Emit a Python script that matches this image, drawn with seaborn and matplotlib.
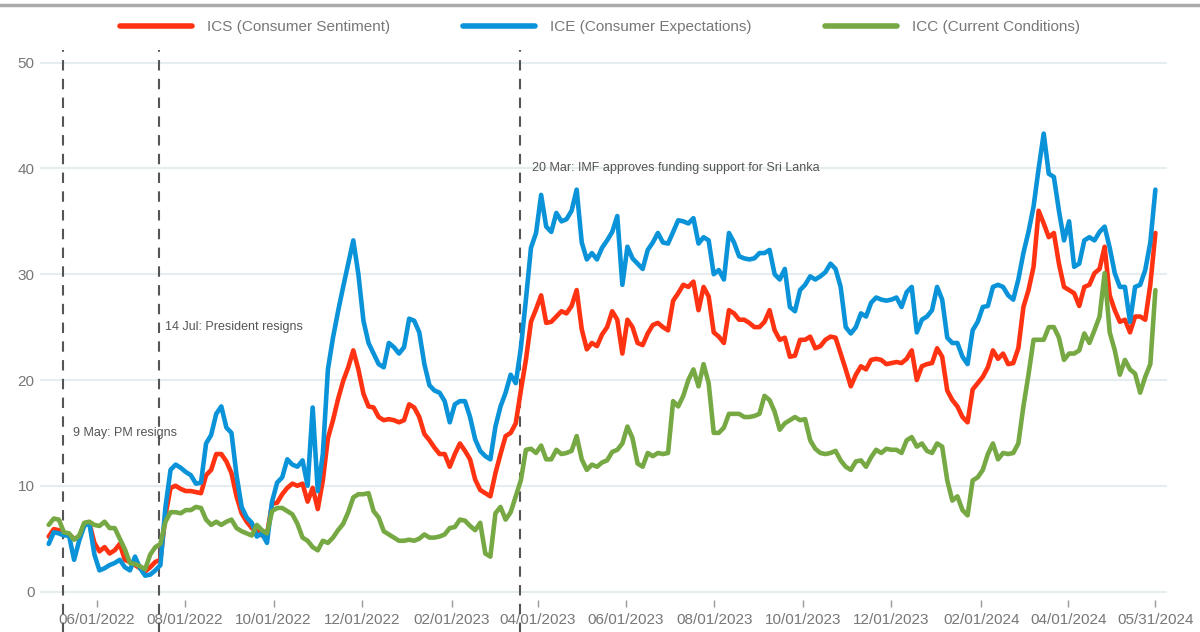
import pandas as pd
import numpy as np
import matplotlib
matplotlib.use("Agg")
import matplotlib.pyplot as plt
import matplotlib.dates as mdates
from matplotlib.lines import Line2D
import seaborn as sns

# readings every 3.5 days, 2022-04-29 .. 2024-05-31
dates = pd.date_range("2022-04-29", "2024-05-31", freq="84h")

# values on the weekly grid (Fridays) and half-way between them
ics_wk = [5.2, 5.8, 5.4, 5.0, 6.5, 3.8, 3.6, 4.5, 2.8, 2.2, 2.3, 3.0, 9.8, 9.7, 9.5, 9.3,
          11.5, 13.0, 11.2, 7.4, 6.0, 5.3, 8.3, 9.2, 10.2, 10.2, 9.8, 10.5, 16.2, 19.9, 22.8, 18.7,
          17.4, 16.2, 16.2, 16.2, 17.4, 14.9, 13.6, 13.0, 13.0, 13.3, 10.6, 9.3, 11.2, 14.7, 15.9, 21.9,
          26.7, 25.4, 26.0, 26.3, 28.5, 22.9, 23.2, 25.0, 25.7, 25.7, 23.5, 24.4, 25.4, 24.7, 28.2, 28.8,
          26.6, 27.9, 24.1, 26.6, 25.7, 25.4, 25.0, 26.6, 23.8, 22.2, 23.8, 24.1, 23.2, 24.1, 22.5, 19.4,
          21.3, 21.9, 21.9, 21.6, 21.6, 22.8, 21.3, 21.6, 22.2, 18.1, 16.5, 19.1, 20.3, 22.8, 22.5, 21.6,
          26.9, 30.7, 34.8, 33.9, 28.8, 28.2, 28.8, 30.1, 32.6, 26.6, 25.7, 26.0, 25.7, 33.9]
ics_mid = [5.9, 5.5, 5.0, 6.4, 4.6, 4.2, 3.9, 3.0, 2.5, 1.9, 2.8, 7.2, 10.0, 9.5, 9.4, 11.0,
           13.0, 12.3, 9.0, 6.6, 5.7, 5.4, 8.4, 9.8, 10.0, 8.5, 7.8, 14.5, 18.2, 21.2, 21.0, 17.5,
           16.5, 16.3, 16.0, 17.7, 16.5, 14.3, 13.0, 11.8, 14.0, 12.5, 9.6, 9.0, 13.0, 15.0, 19.0, 25.5,
           28.0, 25.5, 26.5, 27.0, 24.8, 23.5, 24.3, 26.5, 22.5, 25.0, 23.3, 25.2, 25.0, 27.5, 29.0, 29.3,
           28.8, 24.5, 23.5, 26.3, 25.7, 25.0, 25.5, 24.7, 24.0, 22.3, 23.8, 23.0, 23.8, 24.0, 21.0, 20.5,
           21.0, 22.0, 21.5, 21.7, 22.0, 20.0, 21.5, 23.0, 19.0, 17.5, 16.0, 19.7, 21.2, 22.0, 21.5, 23.0,
           28.5, 36.0, 33.5, 31.0, 28.5, 27.0, 29.0, 30.5, 28.0, 25.5, 24.5, 26.0, 29.0]

ice_wk = [4.5, 5.5, 5.3, 4.8, 6.5, 2.0, 2.5, 3.0, 2.0, 2.2, 1.6, 2.5, 11.5, 11.7, 11.0, 10.3,
          14.8, 17.5, 15.0, 8.0, 6.5, 5.5, 8.5, 10.8, 12.0, 12.4, 17.4, 13.0, 24.0, 28.8, 33.2, 25.6,
          22.5, 21.2, 23.1, 23.1, 25.6, 21.5, 19.0, 18.0, 17.7, 18.0, 14.4, 12.8, 15.6, 18.8, 19.7, 27.6,
          33.9, 34.5, 35.8, 35.2, 38.0, 31.4, 31.4, 33.2, 35.5, 32.6, 31.0, 32.3, 33.9, 32.9, 35.1, 34.8,
          32.9, 33.2, 30.4, 33.9, 31.7, 31.4, 32.0, 32.3, 29.5, 26.9, 28.5, 29.8, 29.8, 31.0, 28.8, 24.4,
          26.3, 27.3, 27.6, 27.6, 26.9, 28.8, 25.7, 26.6, 27.6, 23.5, 22.2, 24.7, 26.9, 28.8, 28.8, 27.6,
          32.0, 36.4, 43.3, 39.2, 33.2, 30.7, 33.2, 33.2, 34.5, 30.1, 28.8, 28.8, 30.4, 38.0]
ice_mid = [5.6, 5.3, 3.0, 6.2, 3.5, 2.2, 2.7, 2.3, 3.3, 1.5, 2.0, 8.0, 12.0, 11.3, 10.2, 14.0,
           16.8, 15.5, 11.0, 7.0, 5.2, 4.6, 10.3, 12.5, 11.8, 10.0, 9.5, 21.0, 26.5, 31.0, 30.0, 23.5,
           21.5, 23.5, 22.5, 25.8, 24.5, 19.5, 18.8, 16.0, 18.0, 16.5, 13.3, 12.5, 17.5, 20.5, 23.0, 32.5,
           37.5, 34.0, 35.0, 36.0, 33.0, 32.0, 32.5, 34.0, 29.0, 31.5, 30.5, 33.0, 33.0, 34.0, 35.0, 35.3,
           33.5, 30.0, 29.5, 33.0, 31.5, 31.5, 32.0, 30.0, 30.5, 26.5, 29.0, 29.5, 30.2, 30.5, 25.0, 25.0,
           26.0, 27.8, 27.5, 27.8, 28.3, 24.5, 26.0, 28.8, 24.0, 23.5, 21.5, 25.5, 27.0, 29.0, 28.0, 29.5,
           34.0, 40.0, 39.5, 36.0, 35.0, 31.0, 33.5, 34.0, 32.5, 28.8, 25.5, 29.0, 33.0]

icc_wk = [6.3, 6.8, 5.5, 5.3, 6.6, 6.2, 6.0, 5.0, 2.7, 2.4, 3.5, 4.5, 7.5, 7.4, 7.7, 7.9,
          6.3, 6.3, 6.8, 5.7, 5.3, 5.8, 7.6, 7.9, 7.3, 5.1, 4.2, 4.8, 5.1, 6.4, 8.9, 9.2,
          7.6, 5.7, 5.1, 4.8, 4.8, 5.4, 5.1, 5.4, 6.1, 6.7, 5.8, 3.6, 7.4, 6.8, 9.0, 13.4,
          13.1, 12.5, 13.4, 13.1, 14.7, 11.5, 11.8, 12.4, 13.4, 15.6, 12.1, 13.1, 13.1, 13.1, 17.5, 20.0,
          19.4, 19.7, 15.0, 16.8, 16.8, 16.5, 16.8, 18.1, 15.3, 16.2, 16.2, 14.3, 13.1, 13.1, 12.4, 11.5,
          12.4, 12.7, 13.1, 13.4, 13.1, 14.6, 14.0, 13.1, 13.7, 8.6, 7.7, 10.5, 11.5, 14.0, 13.1, 13.1,
          17.5, 23.8, 23.8, 25.0, 21.9, 22.5, 24.4, 24.7, 30.1, 22.8, 21.9, 20.6, 20.3, 28.5]
icc_mid = [6.9, 5.6, 4.9, 6.5, 6.3, 6.6, 6.0, 4.0, 2.6, 2.1, 4.2, 6.6, 7.5, 7.7, 8.0, 6.8,
           6.6, 6.6, 6.0, 5.5, 6.3, 5.5, 7.9, 7.6, 6.4, 4.8, 3.9, 4.6, 5.8, 7.5, 9.2, 9.3,
           7.0, 5.4, 4.8, 4.9, 5.0, 5.1, 5.2, 6.0, 6.8, 6.2, 6.5, 3.3, 8.0, 7.5, 10.5, 13.5,
           13.8, 12.5, 13.0, 13.3, 12.5, 12.0, 12.2, 13.2, 14.0, 14.5, 11.8, 12.8, 13.0, 18.0, 18.5, 21.0,
           21.5, 15.0, 15.5, 16.8, 16.5, 16.6, 18.5, 17.0, 15.9, 16.5, 16.3, 13.5, 13.0, 13.3, 11.8, 12.3,
           11.8, 13.4, 13.5, 13.4, 14.3, 13.7, 13.3, 14.0, 10.5, 9.0, 7.2, 10.8, 13.0, 12.5, 13.0, 14.0,
           20.5, 23.8, 25.0, 24.0, 22.5, 22.8, 23.5, 26.0, 24.5, 20.5, 21.0, 18.8, 21.5]

labels = ["ICS (Consumer Sentiment)", "ICE (Consumer Expectations)", "ICC (Current Conditions)"]
colors = ["#FF3311", "#0A93D8", "#76A843"]

events = ["2022-05-09", "2022-07-14", "2023-03-20"]
event_text = ["9 May: PM resigns", "14 Jul: President resigns",
              "20 Mar: IMF approves funding support for Sri Lanka"]
event_y = [15, 25, 40]
event_dx = [7, 4.5, 8.5]


def merge(wk, mid):
    out = []
    for i, v in enumerate(wk):
        out.append(v)
        if i < len(mid):
            out.append(mid[i])
    return out


series = [merge(ics_wk, ics_mid), merge(ice_wk, ice_mid), merge(icc_wk, icc_mid)]
df = pd.concat([pd.DataFrame({"date": dates, "value": s, "series": lab})
                for s, lab in zip(series, labels)], ignore_index=True)

sns.set_theme(style="white")
plt.rcParams["font.family"] = ["Liberation Sans", "DejaVu Sans"]

fig = plt.figure(figsize=(12, 6.32), dpi=100)
ax = fig.add_axes([40 / 1200, 32 / 632, 1127 / 1200, 550 / 632])

sns.lineplot(data=df, x="date", y="value", hue="series", hue_order=labels,
             palette=colors, linewidth=3.3, ax=ax, legend=False)

# event markers
for d, t, yv, dx in zip(events, event_text, event_y, event_dx):
    dd = pd.Timestamp(d)
    ax.axvline(dd, ymin=-0.06, ymax=1, color="#555555", lw=1.5, ls=(0, (5, 4)), clip_on=False, zorder=1)
    ax.annotate(t, xy=(dd, yv), xytext=(dx, 0), textcoords="offset points",
                fontsize=9, color="#555555", va="center", ha="left")

ax.set_xlim(pd.Timestamp("2022-04-23"), pd.Timestamp("2024-06-08"))
ax.set_ylim(-0.8, 51.2)
ax.set_yticks([0, 10, 20, 30, 40, 50])
xt = pd.to_datetime(["2022-06-01", "2022-08-01", "2022-10-01", "2022-12-01", "2023-02-01", "2023-04-01",
                     "2023-06-01", "2023-08-01", "2023-10-01", "2023-12-01", "2024-02-01", "2024-04-01",
                     "2024-05-31"])
ax.set_xticks(xt)
ax.xaxis.set_major_formatter(mdates.DateFormatter("%m/%d/%Y"))
ax.grid(axis="y", color="#E6EDF0", lw=1.5)
ax.grid(axis="x", visible=False)
for s in ax.spines.values():
    s.set_visible(False)
ax.tick_params(axis="x", bottom=True, length=5, width=1, color="#999999", pad=4,
               labelsize=11, labelcolor="#777777")
ax.tick_params(axis="y", left=False, length=0, labelsize=11, labelcolor="#777777", pad=4)
ax.set_xlabel("")
ax.set_ylabel("")

handles = [Line2D([0], [0], color=c, lw=4) for c in colors]
fig.legend(handles, labels, loc="upper center", bbox_to_anchor=(0.5, 0.99), ncol=3,
           frameon=False, handlelength=4.7, columnspacing=4.8, handletextpad=1.0,
           fontsize=11, labelcolor="#777777")

fig.add_artist(Line2D([0, 1], [1 - 5 / 632, 1 - 5 / 632], color="#AAAAAA", lw=2.5))

fig.savefig("out.png", dpi=100)
